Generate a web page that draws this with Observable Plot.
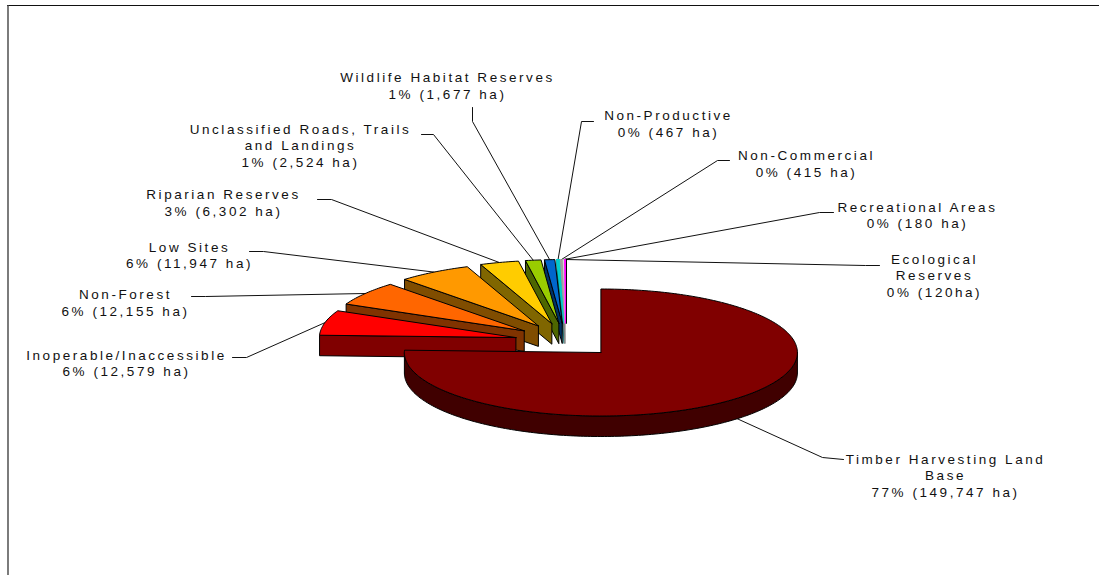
<!DOCTYPE html>
<html><head><meta charset="utf-8">
<script src="https://cdn.jsdelivr.net/npm/d3@7"></script>
<script src="https://cdn.jsdelivr.net/npm/@observablehq/plot@0.6"></script>
<style>html,body{margin:0;padding:0;background:#fff;overflow:hidden}</style>
</head><body><div id="chart"></div>
<script>
const categories = ["Timber Harvesting Land Base","Inoperable/Inaccessible","Non-Forest","Low Sites","Riparian Reserves","Unclassified Roads, Trails and Landings","Wildlife Habitat Reserves","Non-Productive","Non-Commercial","Recreational Areas","Ecological Reserves"];
const hectares = [149747,12579,12155,11947,6302,2524,1677,467,415,180,120];
const labels = [
 "Timber Harvesting Land\nBase\n77% (149,747 ha)",
 "Inoperable/Inaccessible\n6% (12,579 ha)",
 "Non-Forest\n6% (12,155 ha)",
 "Low Sites\n6% (11,947 ha)",
 "Riparian Reserves\n3% (6,302 ha)",
 "Unclassified Roads, Trails\nand Landings\n1% (2,524 ha)",
 "Wildlife Habitat Reserves\n1% (1,677 ha)",
 "Non-Productive\n0% (467 ha)",
 "Non-Commercial\n0% (415 ha)",
 "Recreational Areas\n0% (180 ha)",
 "Ecological\nReserves\n0% (120ha)"];
const topColors = ["#800000","#FF0000","#FF6600","#FF9900","#FFCC00","#99CC00","#0066CC","#00CCCC","#A0A0A0","#E0E0E0","#FF00FF"];
const wallColors = ["#400000","#800000","#803300","#804D00","#806600","#4D6600","#003366","#006666","#606060","#808080","#800080"];
// layout of the label blocks (centre x, centre y) and leader elbows
const labelX = [945,126,125,189,223,300,447,668,806,917,934];
const labelY = [474.5,362,301.5,254,201.5,144.5,84.5,122.5,162.5,214,274.5];
const elbows = [
 [[843,459],[822,457]],[[232,357],[246,357]],[[191,296],[205,296]],[[249,251],[263,251]],
 [[317,199],[331,199]],[[421,134],[433,134]],[[472,107],[472,121]],[[593,121],[581,121]],
 [[729,160],[717,160]],[[833,212],[819,212]],[[879,265],[865,265]]];

const cx=565, cy=341.5, rx=196.5, ry=63.5, depth=20.5, ex=51, eyBack=19, eyFront=14.6;
const rad=d=>d*Math.PI/180, total=d3.sum(hectares);
const ends=Array.from(d3.cumsum(hectares),v=>v/total*360);
const slices=hectares.map((v,i)=>{
  const a0=i?ends[i-1]:0,a1=ends[i],mid=(a0+a1)/2,c=Math.cos(rad(mid)),s=Math.sin(rad(mid));
  const ax=cx+ex*s, ay=cy-(c>0?eyBack:eyFront)*c;
  const pt=(a,d=0)=>({x:ax+rx*Math.sin(rad(a)),y:ay-ry*Math.cos(rad(a))+d});
  const arc=(p,q,d=0)=>{const n=Math.max(2,Math.ceil(Math.abs(q-p)));return d3.range(n+1).map(k=>pt(p+(q-p)*k/n,d));};
  return {i,a0,a1,mid,ax,ay,pt,arc};
});
const poly=(pts,fill,sw=1,stroke="#000")=>Plot.line([...pts,pts[0]],{x:"x",y:"y",fill,stroke,strokeWidth:sw,curve:"linear"});
const marks=[];
// frame of the picture
marks.push(Plot.ruleY([5],{x1:7,x2:1099,stroke:"#111",strokeWidth:1.2}));
marks.push(Plot.ruleX([7.5],{y1:5,y2:575,stroke:"#444",strokeWidth:1.4}));
// leaders
slices.forEach(s=>{
  const end=s.i===0?s.pt(s.mid,depth):s.pt(s.mid);
  const e=elbows[s.i];
  const pts=[{x:e[0][0],y:e[0][1]},{x:e[1][0],y:e[1][1]},{x:end.x,y:end.y}];
  marks.push(Plot.line(pts,{x:"x",y:"y",stroke:"#111",strokeWidth:1,curve:"linear"}));
});
// the four hairline slices: dark right edge, then walls, then tops left to right
const last=slices[slices.length-1], edge=last.pt(last.a1);
marks.push(Plot.line([{x:edge.x+0.6,y:edge.y},{x:last.ax+0.6,y:last.ay}],{x:"x",y:"y",stroke:"#000",strokeWidth:2}));
for(const i of [7,8,9]){
  const s=slices[i];
  marks.push(poly([{x:s.ax,y:s.ay},s.pt(s.a0),s.pt(s.a0,depth),{x:s.ax,y:s.ay+depth}],wallColors[i],0.6,i===7?wallColors[i]:"#888"));
}
for(const i of [7,8,9,10]){
  const s=slices[i];
  marks.push(poly([{x:s.ax,y:s.ay},...s.arc(s.a0,s.a1)],topColors[i],i===8||i===9?0.6:1.2,topColors[i]));
}
// the other slices, right to left, the big one last
for(let i=6;i>=1;i--){
  const s=slices[i];
  const apex={x:s.ax,y:s.ay}, apexD={x:s.ax,y:s.ay+depth};
  marks.push(poly([apex,s.pt(s.a0),s.pt(s.a0,depth),apexD],wallColors[i]));
  marks.push(poly([apex,...s.arc(s.a0,s.a1)],topColors[i]));
}
const m=slices[0];
marks.push(poly([...m.arc(90,270),...m.arc(90,270,depth).reverse()],wallColors[0]));
marks.push(poly([{x:m.ax,y:m.ay},...m.arc(0,m.a1)],topColors[0]));
// labels
marks.push(Plot.text(labels,{x:(d,i)=>labelX[i],y:(d,i)=>labelY[i],text:d=>d,fontSize:13.5,lineHeight:1.23,fill:"#111",textAnchor:"middle",lineAnchor:"middle"}));

const chart=Plot.plot({width:1099,height:575,margin:0,
  x:{domain:[0,1099],range:[0,1099],axis:null},
  y:{domain:[0,575],range:[0,575],axis:null},
  style:{fontFamily:"'Liberation Sans',Arial,sans-serif",letterSpacing:"2.55px",background:"#fff"},
  marks});
document.getElementById("chart").append(chart);
</script></body></html>
